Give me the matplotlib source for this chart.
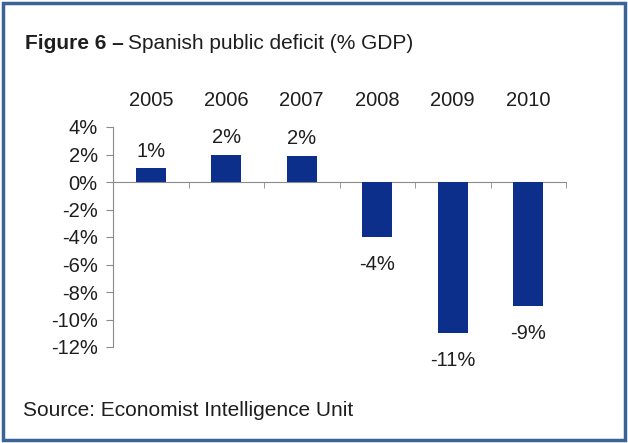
import numpy as np
import matplotlib.pyplot as plt
from matplotlib.patches import Rectangle

plt.rcParams["font.family"] = ["Liberation Sans", "DejaVu Sans"]

# Spanish public deficit, % of GDP
years = ["2005", "2006", "2007", "2008", "2009", "2010"]
deficit = [1.0, 2.0, 1.9, -4.0, -11.0, -9.0]
y_ticks = [4, 2, 0, -2, -4, -6, -8, -10, -12]

text_col = "#1e1e1e"
axis_col = "#8a8a8a"
bar_col = "#0c2f8c"
fs = 14.5

fig = plt.figure(figsize=(6.28, 4.43), dpi=100)
fig.patch.set_facecolor("white")

ax = fig.add_axes([113 / 628, 1 - 347 / 443, 453 / 628, 220 / 443])
x = np.arange(len(years))
ax.bar(x, deficit, width=0.4, color=bar_col, zorder=3)

for xi, v in zip(x, deficit):
    label = "%d%%" % round(v)
    if v >= 0:
        ax.text(xi, v + 0.55, label, ha="center", va="bottom",
                fontsize=fs, color=text_col)
    else:
        ax.text(xi, v - 1.3, label, ha="center", va="top",
                fontsize=fs, color=text_col)

ax.set_xlim(-0.5, len(years) - 0.5)
ax.set_ylim(-12, 4)

# category axis crosses at zero, year labels sit above the plot
ax.spines["bottom"].set_position(("data", 0))
ax.spines["bottom"].set_color(axis_col)
ax.spines["left"].set_color(axis_col)
ax.spines["top"].set_visible(False)
ax.spines["right"].set_visible(False)

ax.set_xticks(x)
ax.set_xticklabels(years)
ax.set_xticks(np.arange(-0.5, len(years)), minor=True)
ax.tick_params(axis="x", which="major", length=0, labelbottom=False,
               labeltop=True, top=False, bottom=False, pad=12,
               labelsize=fs, labelcolor=text_col)
ax.tick_params(axis="x", which="minor", length=4, color=axis_col,
               direction="out", bottom=True, top=False)

ax.set_yticks(y_ticks)
ax.set_yticklabels(["%d%%" % t for t in y_ticks])
ax.tick_params(axis="y", length=5, color=axis_col, labelsize=fs,
               labelcolor=text_col, pad=6)

title_y = 1 - 43.5 / 443
fig.text(25 / 628, title_y, "Figure 6 \u2013", fontsize=fs + 0.5,
         fontweight="bold", color=text_col, va="center")
fig.text(128 / 628, title_y, "Spanish public deficit (% GDP)",
         fontsize=fs + 0.5, color=text_col, va="center")
fig.text(23 / 628, 1 - 410.5 / 443, "Source: Economist Intelligence Unit",
         fontsize=fs + 0.5, color=text_col, va="center")

# blue frame round the whole figure
fig.patches.append(Rectangle((3 / 628, 3 / 443), 622 / 628, 437 / 443,
                             transform=fig.transFigure, fill=False,
                             edgecolor="#3a6396", linewidth=2.5))

fig.savefig("out.png", dpi=100)
